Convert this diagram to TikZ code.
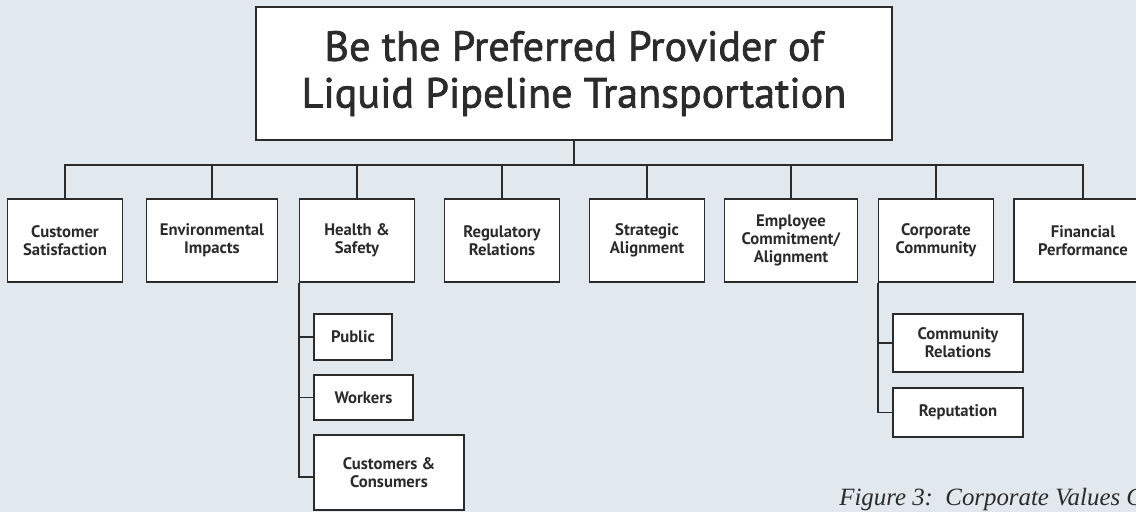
\documentclass[tikz,border=0pt]{standalone}
\usepackage{fontspec}
\setmainfont{PT Sans}
\newfontfamily\titlefont[FakeBold=1.6]{PT Sans}
\newfontfamily\capfont{Liberation Serif}
\definecolor{panel}{HTML}{E1E8EE}
\definecolor{ink}{HTML}{2B2B2B}
\newlength\pxu
\setlength\pxu{0.02cm}

\begin{document}
\begin{tikzpicture}[x=0.02cm, y=-0.02cm,
  goalbox/.style={draw=ink, fill=white, line width=1.1pt, text=ink, align=center,
    minimum width=636\pxu, minimum height=133\pxu, inner sep=0pt,
    font=\titlefont\fontsize{24}{26.6}\selectfont},
  valuebox/.style={draw=ink, fill=white, line width=1.1pt, text=ink, align=center,
    minimum height=83\pxu, inner sep=0pt,
    font=\bfseries\fontsize{9.5}{10.2}\selectfont},
  link/.style={ink, line width=1.1pt}]
\useasboundingbox (0,0) rectangle (1136,512);
\fill [panel] (0,0) rectangle (1136,512);

% top of the chart
\node [goalbox] (goal) at (574,73.5) {Be the Preferred Provider of\\Liquid Pipeline Transportation};
\coordinate (bus) at (574,165);

% the eight values
\node [valuebox, minimum width=115\pxu] (cust) at (65,240.5) {Customer\\Satisfaction};
\node [valuebox, minimum width=131\pxu] (env) at (212,240.5) {Environmental\\Impacts};
\node [valuebox, minimum width=115\pxu] (health) at (357,240.5) {Health \&\\Safety};
\node [valuebox, minimum width=115\pxu] (reg) at (502,240.5) {Regulatory\\Relations};
\node [valuebox, minimum width=115\pxu] (strat) at (647,240.5) {Strategic\\Alignment};
\node [valuebox, minimum width=133\pxu] (empl) at (791,240.5) {Employee\\Commitment/\\Alignment};
\node [valuebox, minimum width=115\pxu] (corp) at (936,240.5) {Corporate\\Community};
\node [valuebox, minimum width=138\pxu] (fin) at (1083,240.5) {Financial\\Performance};

% health & safety
\node [valuebox, minimum width=78\pxu, minimum height=46\pxu] (public) at (353,337) {Public};
\node [valuebox, minimum width=99\pxu, minimum height=45\pxu] (workers) at (363.5,397.5) {Workers};
\node [valuebox, minimum width=150\pxu, minimum height=75\pxu] (custcons) at (389,472.5) {Customers \&\\Consumers};
\coordinate (cctick) at (314,477);

% corporate community
\node [valuebox, minimum width=130\pxu, minimum height=58\pxu] (commrel) at (958,343) {Community\\Relations};
\node [valuebox, minimum width=130\pxu, minimum height=49\pxu] (reput) at (958,412.5) {Reputation};

\draw [link] (goal.south) -- (bus);
\foreach \v in {cust,env,health,reg,strat,empl,corp,fin}
  \draw [link] (\v.north) |- (bus);
\foreach \s in {public,workers}
  \draw [link] (health.south west) |- (\s.west);
\draw [link] (health.south west) |- (cctick);
\foreach \s in {commrel,reput}
  \draw [link] (corp.south west) |- (\s.west);

\node [anchor=base west, inner sep=0pt, text=ink, font=\capfont\itshape\fontsize{14.15}{16}\selectfont] (caption) at (839,505) {Figure 3:\ \ Corporate Values C};
\end{tikzpicture}
\end{document}
